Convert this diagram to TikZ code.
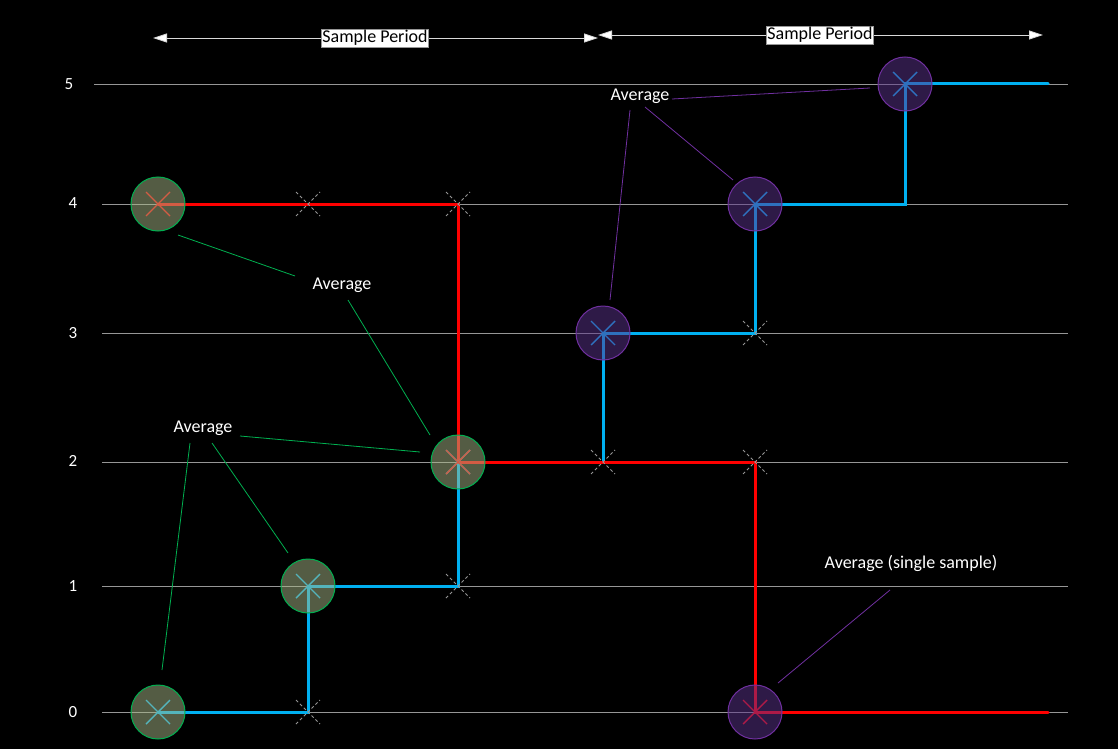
\documentclass[tikz,border=0pt]{standalone}
\usepackage{fontspec}
\setmainfont{Carlito}
\usetikzlibrary{arrows.meta,calc}
\definecolor{redl}{HTML}{FF0000}
\definecolor{bluel}{HTML}{00B0F0}
\definecolor{gfill}{RGB}{168,184,136}
\definecolor{gedge}{HTML}{00B050}
\definecolor{pfill}{RGB}{92,52,142}
\definecolor{pedge}{HTML}{7030A0}
\definecolor{gridc}{RGB}{150,150,150}
\tikzset{
  gridline/.style={draw=gridc, line width=0.8pt},
  ylab/.style={text=white, font=\fontsize{17}{19}\selectfont, anchor=center},
  redpath/.style={draw=redl, line width=3pt, line cap=round},
  bluepath/.style={draw=bluel, line width=3pt, line cap=round},
  gcirc/.style={circle, minimum size=54pt, inner sep=0pt, draw=gedge, line width=1pt, fill=gfill, fill opacity=0.5},
  pcirc/.style={circle, minimum size=54pt, inner sep=0pt, draw=pedge, line width=1pt, fill=pfill, fill opacity=0.5},
  callg/.style={draw=gedge, line width=0.8pt},
  callp/.style={draw=pedge, line width=0.8pt},
  lab/.style={text=white, font=\fontsize{18}{20}\selectfont, inner sep=1pt},
  boxlab/.style={fill=white, draw=gridc, line width=0.6pt, text=black, font=\fontsize{18}{20}\selectfont, inner sep=1.2pt},
  period/.style={draw=white!85!black, line width=0.8pt, {Triangle[width=9pt,length=14pt,fill=white]}-{Triangle[width=9pt,length=14pt,fill=white]}},
}
\newcommand{\dmark}[1]{%
  \draw[gridc, dash pattern=on 3pt off 2.5pt, line width=1pt] ($(#1)+(-12,-12)$) -- ($(#1)+(12,12)$);
  \draw[gridc, dash pattern=on 3pt off 2.5pt, line width=1pt] ($(#1)+(-12,12)$) -- ($(#1)+(12,-12)$);}
\newcommand{\cmark}[2]{%
  \draw[#2, line width=1.4pt] ($(#1)+(-12,-12)$) -- ($(#1)+(12,12)$);
  \draw[#2, line width=1.4pt] ($(#1)+(-12,12)$) -- ($(#1)+(12,-12)$);}
\begin{document}
\begin{tikzpicture}[x=1pt,y=-1pt]
\useasboundingbox[fill=black] (0,0) rectangle (1118,749);
% grid
\draw[gridline] (94,84) -- (1068,84);
\draw[gridline] (102,204) -- (1068,204);
\draw[gridline] (102,333) -- (1068,333);
\draw[gridline] (102,462) -- (1068,462);
\draw[gridline] (102,586) -- (1068,586);
\draw[gridline] (102,712) -- (1068,712);
\node[ylab] (l5) at (69,84) {5};
\node[ylab] (l4) at (73,203) {4};
\node[ylab] (l3) at (73,333) {3};
\node[ylab] (l2) at (73,461) {2};
\node[ylab] (l1) at (73,586) {1};
\node[ylab] (l0) at (73,712) {0};
% sample points
\coordinate (a4) at (158,204);
\coordinate (b4) at (308,204);
\coordinate (c4) at (458,204);
\coordinate (c2) at (458,462);
\coordinate (d2) at (603,462);
\coordinate (e2) at (755,462);
\coordinate (e0) at (755,712);
\coordinate (f0) at (1048,712);
\coordinate (a0) at (158,712);
\coordinate (b0) at (308,712);
\coordinate (b1) at (308,586);
\coordinate (c1) at (458,586);
\coordinate (d3) at (603,333);
\coordinate (e3) at (755,333);
\coordinate (e4) at (755,204);
\coordinate (f4) at (905,204);
\coordinate (f5) at (905,84);
\coordinate (g5) at (1048,84);
% paths
\draw[bluepath] (a0) -- (b0) -- (b1) -- (c1) -- (c2) -- (d2) -- (d3) -- (e3) -- (e4) -- (f4) -- (f5) -- (g5);
\draw[redpath] (a4) -- (c4) -- (c2) -- (e2) -- (e0) -- (f0);
% dashed markers
\dmark{b4}\dmark{c4}\dmark{c1}\dmark{b0}\dmark{d2}\dmark{e2}\dmark{e3}
% crosses
\cmark{a4}{redl}
\cmark{a0}{bluel}
\cmark{b1}{bluel}
\cmark{c2}{bluel}
\cmark{c2}{redl}
\cmark{d3}{bluel}
\cmark{e4}{bluel}
\cmark{f5}{bluel}
\cmark{e0}{redl}
% circles
\node[gcirc] (ca4) at (a4) {};
\node[gcirc] (ca0) at (a0) {};
\node[gcirc] (cb1) at (b1) {};
\node[gcirc] (cc2) at (c2) {};
\node[pcirc] (cd3) at (d3) {};
\node[pcirc] (ce4) at (e4) {};
\node[pcirc] (cf5) at (f5) {};
\node[pcirc] (ce0) at (e0) {};
% labels and callouts
\node[lab] (avg1) at (342,285) {Average};
\draw[callg] (178,235) -- (295,276);
\draw[callg] (348,300) -- (430,435);
\node[lab] (avg2) at (203,428) {Average};
\draw[callg] (190,443) -- (162,670);
\draw[callg] (212,443) -- (288,553);
\draw[callg] (240,436) -- (420,452);
\node[lab] (avg3) at (640,96) {Average};
\draw[callp] (630,110) -- (610,300);
\draw[callp] (645,107) -- (733,180);
\draw[callp] (672,99) -- (870,88);
\node[lab] (avg4) at (911,563) {Average (single sample)};
\draw[callp] (890,590) -- (778,683);
% sample period arrows
\coordinate (p1a) at (153,38);
\coordinate (p1b) at (598,38);
\coordinate (p2a) at (598,35);
\coordinate (p2b) at (1043,35);
\draw[period] (p1a) -- (p1b);
\draw[period] (p2a) -- (p2b);
\node[boxlab] (sp1) at (375,38) {Sample Period};
\node[boxlab] (sp2) at (820,35) {Sample Period};
\end{tikzpicture}
\end{document}
